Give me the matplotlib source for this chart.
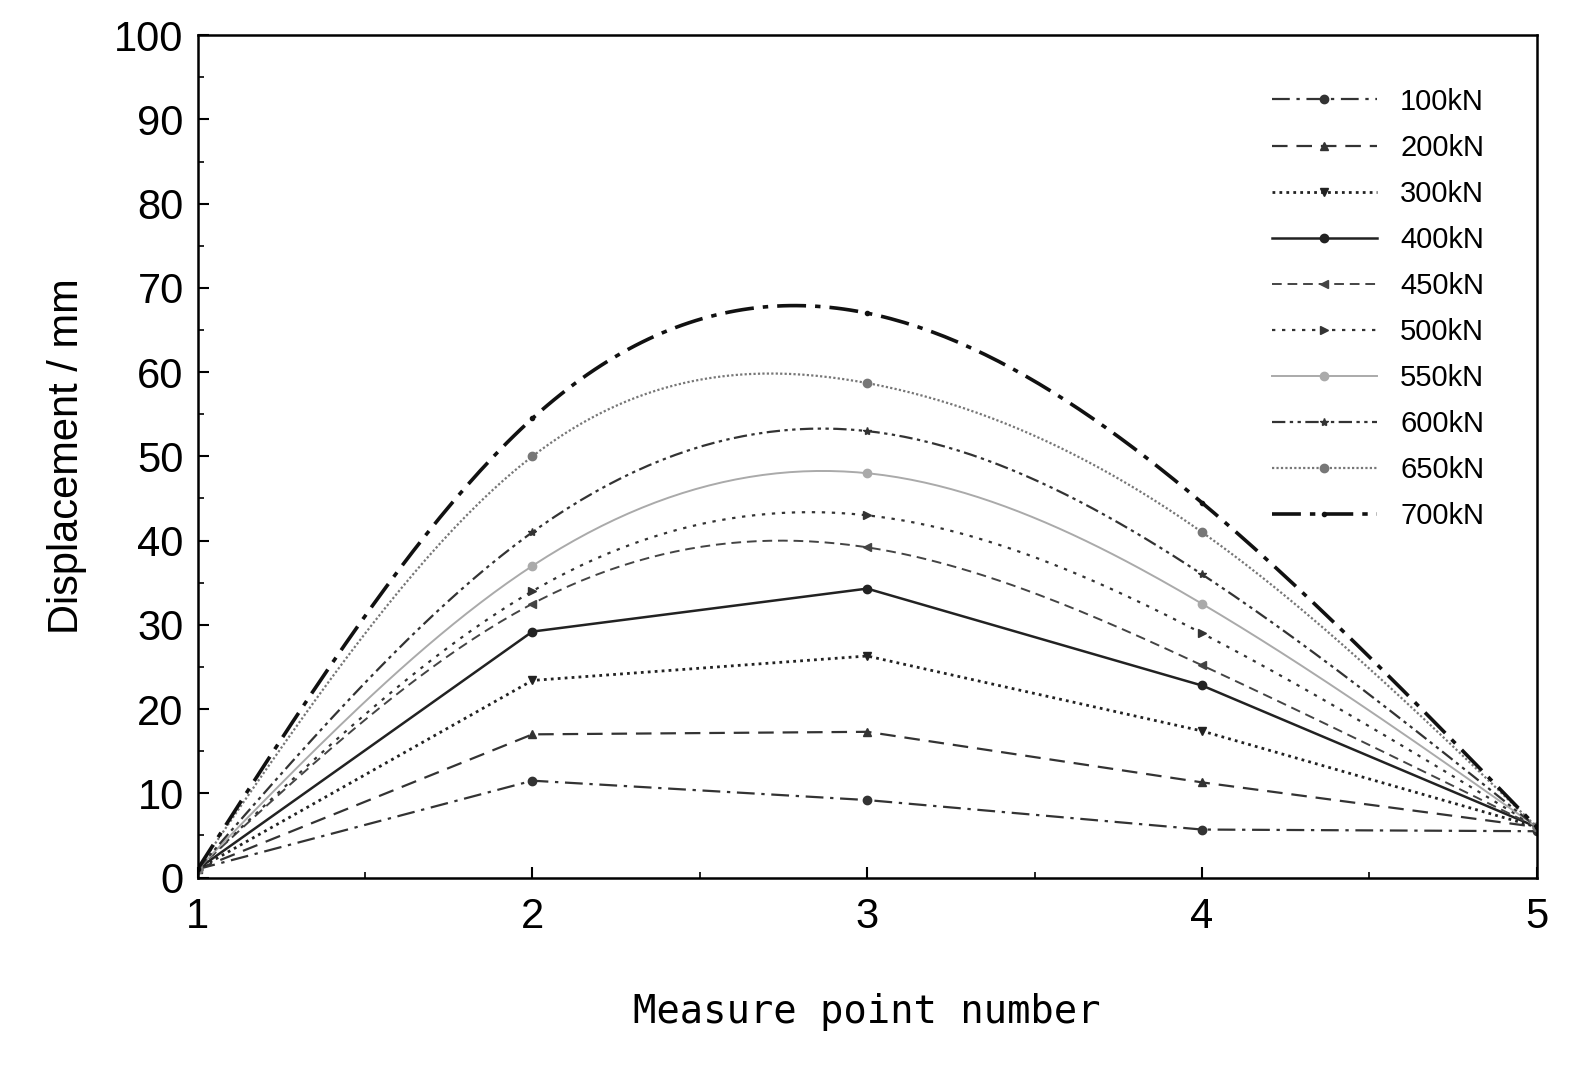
import numpy as np
import matplotlib
matplotlib.use("Agg")
import matplotlib.pyplot as plt

points = [1, 2, 3, 4, 5]
labels = ["100kN","200kN","300kN","400kN","450kN","500kN","550kN","600kN","650kN","700kN"]
d100 = [1.0, 11.5, 9.2, 5.7, 5.5]
d200 = [1.0, 17.0, 17.3, 11.3, 6.0]
d300 = [1.0, 23.4, 26.3, 17.4, 6.0]
d400 = [1.0, 29.2, 34.3, 22.8, 6.0]
d450 = [1.0, 32.5, 39.2, 25.2, 6.0]
d500 = [1.0, 34.0, 43.0, 29.0, 6.0]
d550 = [1.0, 37.0, 48.0, 32.5, 6.0]
d600 = [1.0, 41.0, 53.0, 36.0, 6.0]
d650 = [1.0, 50.0, 58.7, 41.0, 6.0]
d700 = [1.0, 54.5, 67.0, 44.5, 6.0]
series = [d100,d200,d300,d400,d450,d500,d550,d600,d650,d700]

def spline(x, y, n=200):
    x = np.asarray(x, float); y = np.asarray(y, float)
    k = len(x); h = np.diff(x)
    A = np.zeros((k, k)); b = np.zeros(k)
    A[0,0] = A[-1,-1] = 1
    for i in range(1, k-1):
        A[i,i-1] = h[i-1]; A[i,i] = 2*(h[i-1]+h[i]); A[i,i+1] = h[i]
        b[i] = 3*((y[i+1]-y[i])/h[i] - (y[i]-y[i-1])/h[i-1])
    c = np.linalg.solve(A, b)
    xs = np.linspace(x[0], x[-1], n); ys = np.empty_like(xs)
    for j, xv in enumerate(xs):
        i = min(np.searchsorted(x, xv, side='right')-1, k-2)
        dx = xv - x[i]
        bb = (y[i+1]-y[i])/h[i] - h[i]*(2*c[i]+c[i+1])/3
        dd = (c[i+1]-c[i])/(3*h[i])
        ys[j] = y[i] + bb*dx + c[i]*dx**2 + dd*dx**3
    return xs, ys

styles = [
    dict(ls=(0,(8,3,1.5,3)), color='#333333', lw=1.6, m='o', smooth=False),
    dict(ls=(0,(7,4)), color='#333333', lw=1.6, m='^', smooth=False),
    dict(ls=(0,(1,1.5)), color='#222222', lw=2.0, m='v', smooth=False),
    dict(ls='-', color='#222222', lw=1.8, m='o', smooth=False),
    dict(ls=(0,(5,3)), color='#444444', lw=1.4, m='<', smooth=True),
    dict(ls=(0,(1.5,3)), color='#333333', lw=1.6, m='>', smooth=True),
    dict(ls='-', color='#aaaaaa', lw=1.4, m='o', smooth=True),
    dict(ls=(0,(6,2,1.5,2,1.5,2)), color='#333333', lw=1.6, m='*', smooth=True),
    dict(ls=(0,(1,1)), color='#777777', lw=1.6, m='o', smooth=True),
    dict(ls=(0,(8,2.5,1.5,2.5)), color='#111111', lw=2.6, m='.', smooth=True),
]

fig, ax = plt.subplots(figsize=(15.81, 10.65), dpi=100)
fig.subplots_adjust(left=0.125, right=0.972, top=0.967, bottom=0.176)
for lab, y, s in zip(labels, series, styles):
    if s['smooth']:
        xs, ys = spline(points, y)
    else:
        xs, ys = points, y
    ax.plot(xs, ys, ls=s['ls'], color=s['color'], lw=s['lw'])
    ax.plot(points, y, ls='none', marker=s['m'], color=s['color'], ms=6)
    ax.plot([], [], ls=s['ls'], color=s['color'], lw=s['lw'], marker=s['m'], ms=6, label=lab)

ax.set_xlim(1, 5); ax.set_ylim(0, 100)
ax.set_xticks([1,2,3,4,5]); ax.set_yticks(range(0, 101, 10))
ax.set_xticks(np.arange(1, 5.01, 0.5), minor=True)
ax.set_yticks(range(5, 100, 10), minor=True)
ax.tick_params(which='both', direction='in', top=False, right=False)
ax.tick_params(which='major', length=8, width=1.5, labelsize=30)
ax.tick_params(axis='x', which='major', pad=14)
ax.tick_params(axis='y', which='major', pad=10)
ax.tick_params(which='minor', length=4, width=1.2)
for t in ax.get_xticklabels()+ax.get_yticklabels():
    t.set_family('Liberation Sans')
for sp in ax.spines.values():
    sp.set_linewidth(1.8)
ax.set_xlabel('Measure point number', fontsize=28, family='DejaVu Sans Mono', labelpad=40)
ax.set_ylabel('Displacement / mm', fontsize=30, family='Liberation Sans', labelpad=20)
leg = ax.legend(loc='upper right', frameon=False, fontsize=21, handlelength=3.6,
                labelspacing=0.62, borderaxespad=1.4)
for t in leg.get_texts():
    t.set_family('Liberation Sans')
fig.savefig('out.png')
